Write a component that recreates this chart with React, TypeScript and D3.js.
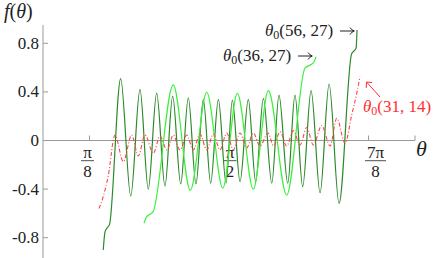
import React from "react";
import * as d3 from "d3";

// Series θ0(56,27) — dark green
const darkTheta = [0.509, 0.524, 0.541, 0.562, 0.656, 0.741, 0.819, 0.889, 0.96, 1.03, 1.095, 1.163, 1.227, 1.292, 1.354, 1.416, 1.481, 1.546, 1.599, 1.664, 1.734, 1.796, 1.861, 1.932, 1.993, 2.067, 2.128, 2.193, 2.264, 2.34, 2.416, 2.5, 2.606, 2.627, 2.644, 2.652];
const darkVal = [-0.9, -0.75, -0.72, -0.69, 0.51, -0.457, 0.42, -0.4, 0.39, -0.375, 0.366, -0.358, 0.352, -0.358, 0.339, -0.352, 0.339, -0.35, 0.333, -0.339, 0.339, -0.339, 0.347, -0.352, 0.374, -0.352, 0.374, -0.38, 0.41, -0.43, 0.465, -0.517, 0.712, 0.737, 0.76, 0.91];

// Series θ0(36,27) — bright green
const brightTheta = [0.853, 0.876, 0.904, 0.929, 1.1, 1.244, 1.383, 1.518, 1.641, 1.776, 1.903, 2.058, 2.213, 2.264, 2.289, 2.306];
const brightVal = [-0.68, -0.627, -0.607, -0.588, 0.457, -0.41, 0.397, -0.393, 0.388, -0.4, 0.41, -0.449, 0.597, 0.625, 0.646, 0.69];

// Series θ0(31,14) — red dash-dot
const redTheta = [0.473, 0.509, 0.551, 0.608, 0.678, 0.749, 0.805, 0.861, 0.932, 0.988, 1.047, 1.1, 1.157, 1.214, 1.269, 1.326, 1.383, 1.438, 1.495, 1.552, 1.607, 1.664, 1.72, 1.776, 1.833, 1.9, 1.947, 2.002, 2.058, 2.114, 2.171, 2.227, 2.283, 2.354, 2.424, 2.481, 2.551, 2.607, 2.65, 2.677];
const redVal = [-0.56, -0.46, -0.29, 0.045, -0.174, 0.045, -0.128, 0.045, -0.105, 0.037, -0.078, 0.045, -0.078, 0.045, -0.078, 0.053, -0.078, 0.053, -0.078, 0.062, -0.078, 0.062, -0.062, 0.062, -0.045, 0.062, -0.045, 0.072, -0.045, 0.081, -0.037, 0.107, -0.037, 0.123, -0.045, 0.183, -0.023, 0.21, 0.39, 0.525];

const yTicks = [0.8, 0.4, 0, -0.4, -0.8];
const yTickLabels = ["0.8", "0.4", "0", "-0.4", "-0.8"];
const xTicks = [Math.PI / 8, Math.PI / 2, (7 * Math.PI) / 8, Math.PI];
const xTickNum = ["π", "π", "7π", ""];
const xTickDen = ["8", "2", "8", ""];
const xTickShift = [-2, 1, 7, 0];

const W = 436;
const H = 258;
const serif = "'Liberation Serif', 'DejaVu Serif', serif";

function Arrow({ x0, yb, color }: { x0: number; yb: number; color: string }) {
  const ym = yb - 5;
  return (
    <g stroke={color} strokeWidth={1} fill="none">
      <line x1={x0} x2={x0 + 14} y1={ym} y2={ym} />
      <path d={`M${x0 + 10},${ym - 3.5} Q${x0 + 12},${ym - 0.5} ${x0 + 14.3},${ym} Q${x0 + 12},${ym + 0.5} ${x0 + 10},${ym + 3.5}`} />
    </g>
  );
}

export default function App() {
  const x = d3.scaleLinear().domain([0, Math.PI]).range([43, 415]);
  const y = d3.scaleLinear().domain([-0.8, 0.8]).range([237.7, 43.3]);

  const mk = (th: number[], v: number[]) =>
    d3
      .line<number>()
      .x((_, i) => x(th[i]))
      .y((d) => y(d))
      .curve(d3.curveMonotoneX)(v) || "";

  const axisColor = "#9a9a9a";
  const y0 = y(0);

  return (
    <svg
      width={W}
      height={H}
      style={{ position: "absolute", left: 0, top: 0, background: "#fff" }}
      fontFamily={serif}
    >
      {/* axes */}
      <line x1={x(0)} x2={x(0)} y1={y(0.95)} y2={y(-0.99)} stroke={axisColor} strokeWidth={1} />
      <line x1={x(0)} x2={x(Math.PI)} y1={y0} y2={y0} stroke={axisColor} strokeWidth={1} />
      {yTicks.map((t, i) => (
        <g key={"yt" + i}>
          <line x1={x(0)} x2={x(0) + 5} y1={y(t)} y2={y(t)} stroke={axisColor} />
          <text x={39} y={y(t) + 5.5} textAnchor="end" fontSize={17} fill="#222">
            {yTickLabels[i]}
          </text>
        </g>
      ))}
      {xTicks.map((t, i) => {
        const cx = x(t) + xTickShift[i];
        const bw = xTickNum[i].length > 1 ? 10.5 : 6.5;
        return (
          <g key={"xt" + i}>
            <line x1={x(t)} x2={x(t)} y1={y0} y2={y0 - 5} stroke={axisColor} />
            {xTickNum[i] && (
              <>
                <text x={cx} y={157.5} textAnchor="middle" fontSize={17} fill="#222">
                  {xTickNum[i]}
                </text>
                <line x1={cx - bw} x2={cx + bw} y1={160.7} y2={160.7} stroke="#222" strokeWidth={0.8} />
                <text x={cx} y={177.3} textAnchor="middle" fontSize={17} fill="#222">
                  {xTickDen[i]}
                </text>
              </>
            )}
          </g>
        );
      })}
      {/* axis labels */}
      <text x={416} y={156} fontSize={22} fontStyle="italic" fill="#222">θ</text>
      <text x={4} y={18} fontSize={20} fill="#222">
        <tspan fontStyle="italic">f</tspan>
        <tspan>(</tspan>
        <tspan fontStyle="italic">θ</tspan>
        <tspan>)</tspan>
      </text>

      {/* curves */}
      <path d={mk(darkTheta, darkVal)} fill="none" stroke="#2a8a2a" strokeWidth={1.2} />
      <path d={mk(brightTheta, brightVal)} fill="none" stroke="#3cef3c" strokeWidth={1.2} />
      <path d={mk(redTheta, redVal)} fill="none" stroke="#ff4545" strokeWidth={1.1} strokeDasharray="4,2,1,2" />

      {/* annotations */}
      <text x={265} y={36} fontSize={17} fill="#222">
        <tspan fontStyle="italic">θ</tspan>
        <tspan fontSize={12} dy={3}>0</tspan>
        <tspan dy={-3}>(56, 27)</tspan>
      </text>
      <Arrow x0={340} yb={36} color="#222" />
      <text x={223} y={61} fontSize={17} fill="#222">
        <tspan fontStyle="italic">θ</tspan>
        <tspan fontSize={12} dy={3}>0</tspan>
        <tspan dy={-3}>(36, 27)</tspan>
      </text>
      <Arrow x0={298} yb={61} color="#222" />
      <text x={363} y={112} fontSize={17} fill="#ff3030">
        <tspan fontStyle="italic">θ</tspan>
        <tspan fontSize={12} dy={3}>0</tspan>
        <tspan dy={-3}>(31, 14)</tspan>
      </text>
      <g stroke="#ff3030" strokeWidth={1} fill="none">
        <line x1={380} y1={97} x2={366.5} y2={82} />
        <polyline points="366.2,88 366.5,82 372.2,82.6" />
      </g>
    </svg>
  );
}
